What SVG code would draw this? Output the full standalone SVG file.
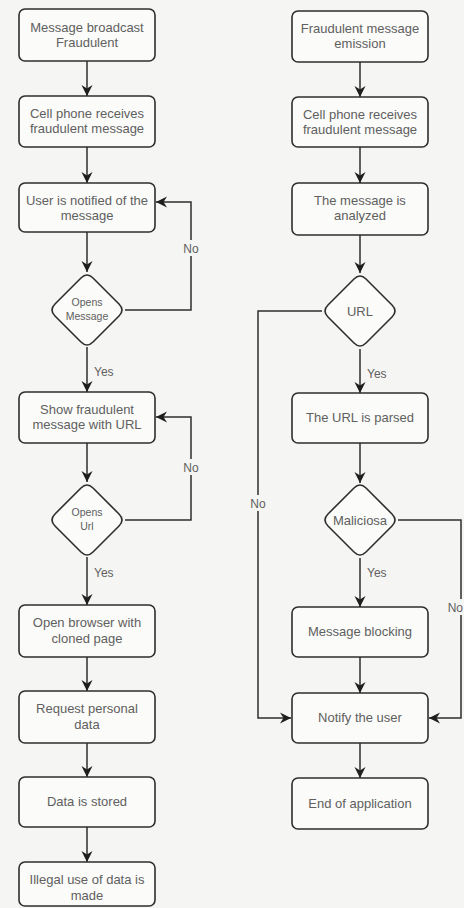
<svg xmlns="http://www.w3.org/2000/svg" width="464" height="908" viewBox="0 0 464 908">
  <style>
    .box { fill: #fbfbf9; stroke: #2e2e2e; stroke-width: 1.6; }
    .dia { fill: #fbfbf9; stroke: #2e2e2e; stroke-width: 1.6; }
    .t { font-family: "Liberation Sans", Arial, sans-serif; font-size: 13px; fill: #606060; text-anchor: middle; }
    .ts { font-family: "Liberation Sans", Arial, sans-serif; font-size: 10.5px; fill: #606060; text-anchor: middle; }
    .lbl { font-family: "Liberation Sans", Arial, sans-serif; font-size: 12px; fill: #606060; }
    .c { fill: none; stroke: #2e2e2e; stroke-width: 1.5; marker-end: url(#arr); }
  </style>
  <defs>
    <marker id="arr" markerUnits="userSpaceOnUse" markerWidth="12" markerHeight="12" refX="11" refY="6" orient="auto">
      <path d="M0,0.5 L11,6 L0,11.5 L3.5,6 Z" fill="#1e1e1e"/>
    </marker>
    <path id="dshape" d="M-6,-32 Q0,-38 6,-32 L32,-6 Q38,0 32,6 L6,32 Q0,38 -6,32 L-32,6 Q-38,0 -32,-6 Z"/>
  </defs>
  <rect width="464" height="908" fill="#f5f5f3"/>

  <g id="connectors">
    <path class="c" d="M87,61 V96"/>
    <path class="c" d="M87,147 V183"/>
    <path class="c" d="M87,232 V272"/>
    <path class="c" d="M125,310 H191 V202 H156"/>
    <path class="c" d="M87,347 V392"/>
    <path class="c" d="M87,443 V482"/>
    <path class="c" d="M125,520 H191 V417 H156"/>
    <path class="c" d="M87,557 V605"/>
    <path class="c" d="M87,657 V691"/>
    <path class="c" d="M87,743 V777"/>
    <path class="c" d="M87,827 V862"/>

    <path class="c" d="M360,62 V97"/>
    <path class="c" d="M360,147 V183"/>
    <path class="c" d="M360,235 V273"/>
    <path class="c" d="M322,311 H258 V718 H291"/>
    <path class="c" d="M360,349 V393"/>
    <path class="c" d="M360,443 V483"/>
    <path class="c" d="M398,520 H461 V718 H429"/>
    <path class="c" d="M360,558 V607"/>
    <path class="c" d="M360,657 V693"/>
    <path class="c" d="M360,743 V778"/>

    <rect x="183" y="240" width="16" height="16" fill="#f5f5f3"/>
    <text class="lbl" x="191" y="253" text-anchor="middle">No</text>
    <rect x="183" y="459" width="16" height="16" fill="#f5f5f3"/>
    <text class="lbl" x="191" y="472" text-anchor="middle">No</text>
    <text class="lbl" x="94" y="376">Yes</text>
    <text class="lbl" x="94" y="577">Yes</text>
    <rect x="250" y="495" width="16" height="16" fill="#f5f5f3"/>
    <text class="lbl" x="258" y="508" text-anchor="middle">No</text>
    <text class="lbl" x="367" y="378">Yes</text>
    <text class="lbl" x="367" y="577">Yes</text>
    <rect x="446" y="599" width="18" height="16" fill="#f5f5f3"/>
    <text class="lbl" x="463" y="612" text-anchor="end">No</text>
  </g>

  <g id="l1"><rect class="box" x="19" y="9" width="136" height="52" rx="6"/>
    <text class="t" x="87" y="32">Message broadcast</text><text class="t" x="87" y="47">Fraudulent</text></g>
  <g id="l2"><rect class="box" x="19" y="96" width="136" height="51" rx="6"/>
    <text class="t" x="87" y="118">Cell phone receives</text><text class="t" x="87" y="133">fraudulent message</text></g>
  <g id="l3"><rect class="box" x="19" y="183" width="136" height="49" rx="6"/>
    <text class="t" x="87" y="205">User is notified of the</text><text class="t" x="87" y="220">message</text></g>
  <g id="l4"><use href="#dshape" class="dia" x="87" y="310"/>
    <text class="ts" x="87" y="306">Opens</text><text class="ts" x="87" y="320">Message</text></g>
  <g id="l5"><rect class="box" x="19" y="392" width="136" height="51" rx="6"/>
    <text class="t" x="87" y="414">Show fraudulent</text><text class="t" x="87" y="429">message with URL</text></g>
  <g id="l6"><use href="#dshape" class="dia" x="87" y="520"/>
    <text class="ts" x="87" y="516">Opens</text><text class="ts" x="87" y="530">Url</text></g>
  <g id="l7"><rect class="box" x="19" y="605" width="136" height="52" rx="6"/>
    <text class="t" x="87" y="627">Open browser with</text><text class="t" x="87" y="643">cloned page</text></g>
  <g id="l8"><rect class="box" x="19" y="691" width="136" height="52" rx="6"/>
    <text class="t" x="87" y="713">Request personal</text><text class="t" x="87" y="729">data</text></g>
  <g id="l9"><rect class="box" x="19" y="777" width="136" height="50" rx="6"/>
    <text class="t" x="87" y="806">Data is stored</text></g>
  <g id="l10"><rect class="box" x="19" y="862" width="136" height="44" rx="6"/>
    <text class="t" x="87" y="884">Illegal use of data is</text><text class="t" x="87" y="900">made</text></g>

  <g id="r1"><rect class="box" x="292" y="11" width="136" height="51" rx="6"/>
    <text class="t" x="360" y="33">Fraudulent message</text><text class="t" x="360" y="48">emission</text></g>
  <g id="r2"><rect class="box" x="292" y="97" width="136" height="50" rx="6"/>
    <text class="t" x="360" y="119">Cell phone receives</text><text class="t" x="360" y="134">fraudulent message</text></g>
  <g id="r3"><rect class="box" x="292" y="183" width="136" height="52" rx="6"/>
    <text class="t" x="360" y="205">The message is</text><text class="t" x="360" y="220">analyzed</text></g>
  <g id="r4"><use href="#dshape" class="dia" x="360" y="311"/>
    <text class="t" x="360" y="316">URL</text></g>
  <g id="r5"><rect class="box" x="292" y="393" width="136" height="50" rx="6"/>
    <text class="t" x="360" y="422">The URL is parsed</text></g>
  <g id="r6"><use href="#dshape" class="dia" x="360" y="520"/>
    <text class="t" x="360" y="525">Maliciosa</text></g>
  <g id="r7"><rect class="box" x="292" y="607" width="136" height="50" rx="6"/>
    <text class="t" x="360" y="636">Message blocking</text></g>
  <g id="r8"><rect class="box" x="292" y="693" width="136" height="50" rx="6"/>
    <text class="t" x="360" y="722">Notify the user</text></g>
  <g id="r9"><rect class="box" x="292" y="778" width="136" height="51" rx="6"/>
    <text class="t" x="360" y="808">End of application</text></g>
</svg>
